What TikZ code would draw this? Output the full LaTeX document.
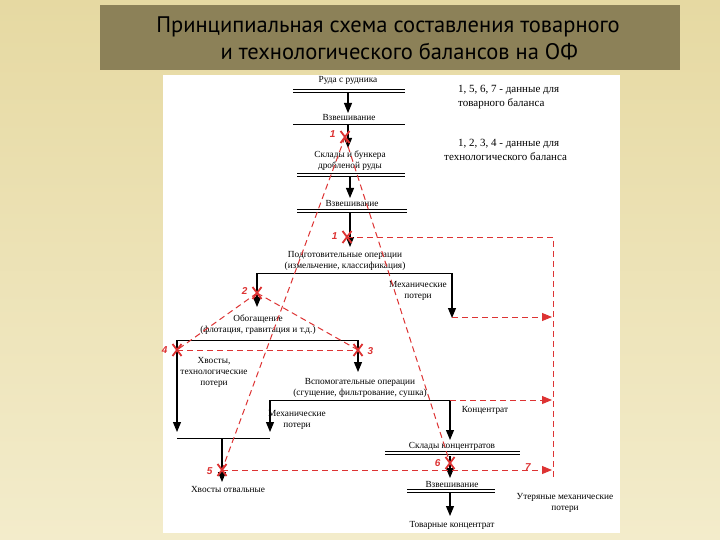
\documentclass[tikz,border=0pt]{standalone}
\usepackage{fontspec}
\setmainfont{Liberation Serif}
\newfontfamily\titlefont{PT Sans}
\newfontfamily\numfont{Liberation Sans}
\usetikzlibrary{arrows.meta,calc}
\definecolor{bgtop}{HTML}{E6D9A2}
\definecolor{bgbot}{HTML}{F3ECCB}
\definecolor{olive}{HTML}{8C8158}
\definecolor{rd}{HTML}{DD3333}
\begin{document}
\begin{tikzpicture}[x=1pt,y=-1pt,
  lbl/.style={font=\fontsize{9.3}{11}\selectfont,align=center,inner sep=0pt},
  flow/.style={-{Triangle[length=10pt,width=8pt]},line width=1.1pt},
  ln/.style={line width=0.9pt},
  rdash/.style={rd,dash pattern=on 6pt off 4pt,line width=1pt},
  rdarr/.style={rdash,-{Triangle[length=10pt,width=8pt]}},
  xm/.style={rd,font=\numfont\bfseries\itshape\fontsize{10}{10}\selectfont}]
\useasboundingbox (0,0) rectangle (720,540);
\shade[top color=bgtop,bottom color=bgbot] (0,0) rectangle (720,540);
\fill[olive] (100,5) rectangle (680,70);
\node[font=\titlefont\fontsize{22.5}{27}\selectfont,align=center] (title) at (388,38) {Принципиальная схема составления товарного\\\hspace*{1em}и технологического балансов на ОФ};
\fill[white] (163,75) rectangle (620,533);
% legend
\node[lbl,font=\fontsize{11}{13.5}\selectfont,align=left,anchor=west] (lg1) at (458,97) {1, 5, 6, 7 - данные для\\товарного баланса};
\node[lbl,font=\fontsize{11}{13.5}\selectfont,align=left,anchor=west] (lg2) at (444,150) {\hspace*{14pt}1, 2, 3, 4 - данные для\\технологического баланса};
% nodes
\node[lbl] (ruda) at (348,80) {Руда с рудника};
\draw[ln] (293,89)--(405,89) (293,92)--(405,92);
\node[lbl] (vz1) at (349,118) {Взвешивание};
\draw[ln] (293,124)--(405,124);
\node[lbl] (skl) at (350,161) {Склады и бункера\\дробленой руды};
\draw[ln] (297,173)--(405,173) (297,176)--(405,176);
\node[lbl] (vz2) at (352,204) {Взвешивание};
\draw[ln] (297,209)--(407,209) (297,212)--(407,212);
\node[lbl] (podg) at (345,261) {Подготовительные операции\\(измельчение, классификация)};
\node[lbl] (mp1) at (418,291) {Механические\\потери};
\node[lbl] (obog) at (258,325) {Обогащение\\(флотация, гравитация и т.д.)};
\node[lbl] (hvt) at (214,372) {Хвосты,\\технологические\\потери};
\node[lbl] (vsp) at (360,388) {Вспомогательные операции\\(сгущение, фильтрование, сушка)};
\node[lbl] (mp2) at (297,420) {Механические\\потери};
\node[lbl] (konc) at (485,410) {Концентрат};
\node[lbl] (sklk) at (452,446) {Склады концентратов};
\draw[ln] (385,451)--(520,451) (385,454)--(520,454);
\node[lbl] (vz3) at (452,484) {Взвешивание};
\draw[ln] (407,489)--(495,489) (407,492)--(495,492);
\node[lbl] (tov) at (452,525) {Товарные концентрат};
\node[lbl] (hvo) at (228,489) {Хвосты отвальные};
\node[lbl] (ut) at (565,503) {Утеряные механические\\потери};
% coordinates
\coordinate (x1a) at (345,137);
\coordinate (x1b) at (347,237);
\coordinate (x2) at (257,293);
\coordinate (x3) at (358,350);
\coordinate (x4) at (177,350);
\coordinate (x5) at (222,470);
\coordinate (x6) at (450,463);
\coordinate (rt) at (553,237);
\coordinate (rb) at (553,478);
% black flows
\draw[flow] (348,93)--(348,113);
\draw[flow] (348,125)--(348,148);
\draw[flow] (350,177)--(350,198);
\draw[flow] (350,213)--(350,247);
\draw[ln] (257,273)--(452,273);
\draw[flow] (257,273)--(257,307);
\draw[flow] (452,273)--(452,318);
\draw[ln] (177,340)--(358,340);
\draw[flow] (358,340)--(358,372);
\draw[flow] (177,340)--(177,432);
\draw[ln] (270,400)--(450,400);
\draw[flow] (270,400)--(270,432);
\draw[flow] (450,400)--(450,440);
\draw[ln] (177,438)--(270,438);
\draw[flow] (222,438)--(222,482);
\draw[flow] (450,456)--(450,478);
\draw[flow] (450,493)--(450,516);
% red dashed
\draw[rdash] (x1a)--(x5);
\draw[rdash] (x1a)--(x6);
\draw[rdash] (x1b)--(rt)--(rb);
\draw[rdarr] (452,317)--(552,317);
\draw[rdarr] (450,400)--(552,400);
\draw[rdarr] (x5)--(552,470);
\draw[rdash] (x2)--(x4);
\draw[rdash] (x2)--(x3);
\draw[rdash] (x4)--(x3);
% cross marks
\foreach \p in {x1a,x1b,x2,x3,x4,x5,x6}{
  \draw[rd,line width=1.8pt] ($(\p)+(-4.5,-6)$)--($(\p)+(4.5,6)$) ($(\p)+(-4.5,6)$)--($(\p)+(4.5,-6)$);
}
\node[xm,anchor=east] (n1a) at (339,134) {1};
\node[xm,anchor=east] (n1b) at (341,236) {1};
\node[xm,anchor=east] (n2) at (251,291) {2};
\node[xm,anchor=west] (n3) at (364,351) {3};
\node[xm,anchor=east] (n4) at (171,350) {4};
\node[xm,anchor=east] (n5) at (216,471) {5};
\node[xm,anchor=east] (n6) at (444,463) {6};
\node[xm] (n7) at (528,467) {7};
\end{tikzpicture}
\end{document}
